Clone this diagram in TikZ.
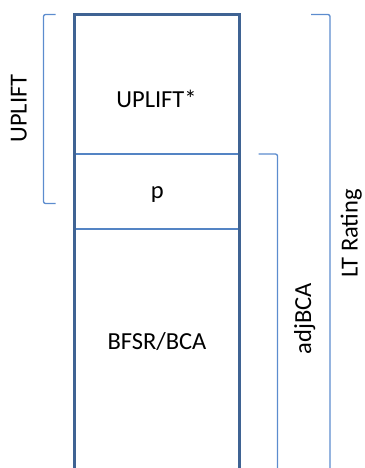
\documentclass[tikz,border=0pt]{standalone}
\usepackage{fontspec}
\setmainfont{Carlito}
\definecolor{boxblue}{RGB}{63,99,147}
\definecolor{lineblue}{RGB}{84,132,196}
\definecolor{brblue}{RGB}{92,140,206}
\begin{document}
\begin{tikzpicture}[x=1pt,y=-1pt,
  lbl/.style={inner sep=0pt, anchor=base, font=\fontsize{24.5}{29}\selectfont, text=black},
  vlbl/.style={lbl, rotate=90},
  frame/.style={draw=boxblue, line width=3.6pt, line join=miter},
  divider/.style={draw=lineblue, line width=1.3pt},
  brack/.style={draw=brblue, line width=1.3pt, rounded corners=2pt}]
\useasboundingbox (0,0) rectangle (364,468);
% column
\coordinate (tl) at (74.3,14.5);
\coordinate (tr) at (239.3,14.5);
\coordinate (bl) at (74.3,472);
\coordinate (br) at (239.3,472);
\draw[divider] (74.3,154) -- (239.3,154);
\draw[divider] (74.3,229) -- (239.3,229);
\draw[frame] (bl) -- (tl) -- (tr) -- (br);
% section labels
\node[lbl] (upstar) at (156.5,107.3) {UPLIFT*};
\node[lbl] (p) at (157.4,198.5) {p};
\node[lbl] (bfsr) at (157,349) {BFSR/BCA};
% brackets
\draw[brack] (55.5,14.5) -- (43.5,14.5) -- (43.5,203.5) -- (55.5,203.5);
\draw[brack] (258.5,154) -- (277.5,154) -- (277.5,472);
\draw[brack] (311,14.5) -- (330,14.5) -- (330,472);
% bracket labels
\node[vlbl] (uplift) at (26.7,108.5) {UPLIFT};
\node[vlbl] (adj) at (311,318.5) {adjBCA};
\node[vlbl] (lt) at (357.5,233.5) {LT Rating};
\end{tikzpicture}
\end{document}
